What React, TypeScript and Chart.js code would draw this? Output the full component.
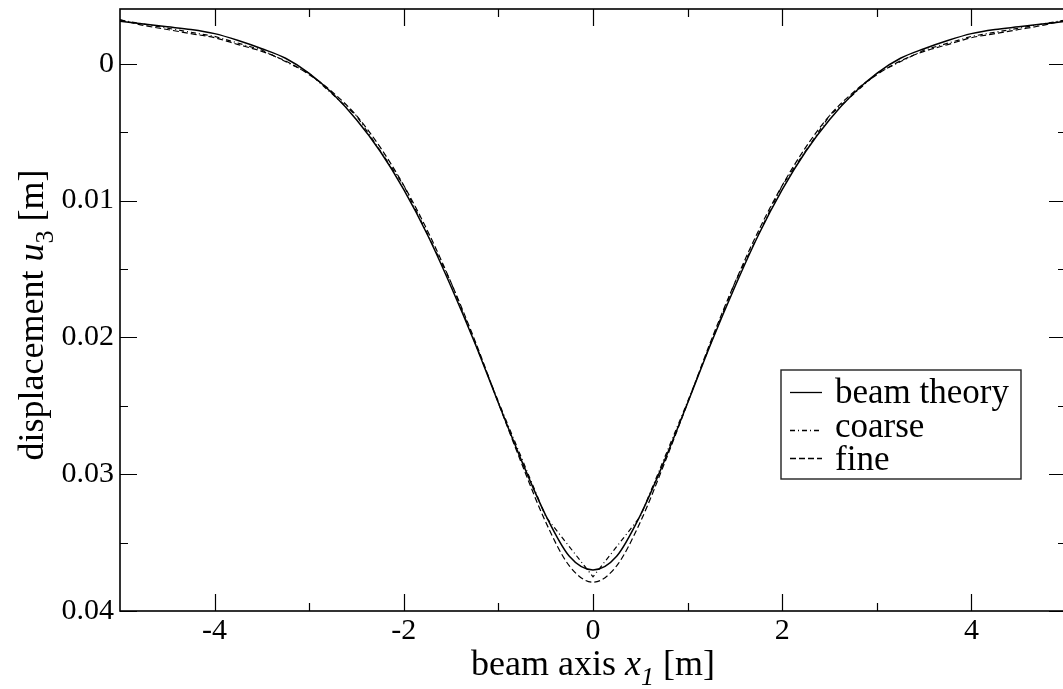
import { useEffect, useRef } from "react";
import { Chart, registerables } from "chart.js";

Chart.register(...registerables);

// ---- data ----
const beamX = [-5, -4.75, -4.5, -4.25, -4, -3.75, -3.5, -3.25, -3, -2.75, -2.5, -2.25, -2, -1.75, -1.5, -1.25, -1, -0.75, -0.5, -0.25, 0,
  0.25, 0.5, 0.75, 1, 1.25, 1.5, 1.75, 2, 2.25, 2.5, 2.75, 3, 3.25, 3.5, 3.75, 4, 4.25, 4.5, 4.75, 5];
const beamTheory = [-0.0031, -0.0029, -0.0027, -0.0025, -0.0022, -0.0017, -0.0011, -0.0004, 0.0007, 0.0022, 0.0041, 0.0064, 0.0092, 0.0125, 0.0163, 0.0204, 0.0248, 0.0291, 0.0330, 0.0360, 0.0370,
  0.0360, 0.0330, 0.0291, 0.0248, 0.0204, 0.0163, 0.0125, 0.0092, 0.0064, 0.0041, 0.0022, 0.0007, -0.0004, -0.0011, -0.0017, -0.0022, -0.0025, -0.0027, -0.0029, -0.0031];

const fineX = [-5, -4.75, -4.5, -4.25, -4, -3.75, -3.5, -3.25, -3, -2.75, -2.5, -2.25, -2, -1.75, -1.5, -1.25, -1, -0.75, -0.5, -0.25, 0,
  0.25, 0.5, 0.75, 1, 1.25, 1.5, 1.75, 2, 2.25, 2.5, 2.75, 3, 3.25, 3.5, 3.75, 4, 4.25, 4.5, 4.75, 5];
const fine = [-0.0032, -0.0028, -0.0025, -0.0022, -0.0019, -0.0014, -0.0009, -0.0002, 0.0008, 0.0021, 0.0038, 0.0061, 0.0089, 0.0122, 0.0160, 0.0202, 0.0248, 0.0293, 0.0335, 0.0367, 0.0379,
  0.0367, 0.0335, 0.0293, 0.0248, 0.0202, 0.0160, 0.0122, 0.0089, 0.0061, 0.0038, 0.0021, 0.0008, -0.0002, -0.0009, -0.0014, -0.0019, -0.0022, -0.0025, -0.0028, -0.0032];

const coarseX = [-5, -4.5, -4, -3.5, -3, -2.5, -2, -1.5, -1, -0.5, 0, 0.5, 1, 1.5, 2, 2.5, 3, 3.5, 4, 4.5, 5];
const coarse = [-0.0032, -0.0026, -0.0020, -0.0010, 0.0007, 0.0038, 0.0089, 0.0160, 0.0247, 0.0331, 0.0375,
  0.0331, 0.0247, 0.0160, 0.0089, 0.0038, 0.0007, -0.0010, -0.0020, -0.0026, -0.0032];

const xMajorTicks = [-4, -2, 0, 2, 4];
const xMinorTicks = [-3, -1, 1, 3];
const yMajorTicks = [0, 0.01, 0.02, 0.03, 0.04];
const yMinorTicks = [0.005, 0.015, 0.025, 0.035];
const legendLabels = ["beam theory", "coarse", "fine"];

const SERIF = '"Liberation Serif", "DejaVu Serif", serif';
const DASH_DOT = [5, 3, 1, 3];
const DASHED = [6, 3];

type Run = { text: string; italic?: boolean; sub?: boolean };

function drawRuns(ctx: CanvasRenderingContext2D, runs: Run[], cx: number, baseline: number, size: number) {
  const fontFor = (r: Run) => `${r.italic ? "italic " : ""}${r.sub ? Math.round(size * 0.72) : size}px ${SERIF}`;
  let total = 0;
  const widths = runs.map((r) => {
    ctx.font = fontFor(r);
    const w = ctx.measureText(r.text).width;
    total += w;
    return w;
  });
  let x = cx - total / 2;
  ctx.textAlign = "left";
  ctx.textBaseline = "alphabetic";
  runs.forEach((r, i) => {
    ctx.font = fontFor(r);
    ctx.fillText(r.text, x, baseline + (r.sub ? size * 0.28 : 0));
    x += widths[i];
  });
}

const framePlugin = {
  id: "framePlugin",
  afterDraw(chart: any) {
    const ctx: CanvasRenderingContext2D = chart.ctx;
    const { left, right, top, bottom } = chart.chartArea;
    const xs = chart.scales.x;
    const ys = chart.scales.y;
    ctx.save();
    ctx.strokeStyle = "#000";
    ctx.fillStyle = "#000";
    ctx.setLineDash([]);
    // ticks
    ctx.lineWidth = 1.2;
    const major = 17;
    const minor = 8;
    ctx.beginPath();
    xMajorTicks.forEach((v) => {
      const p = Math.round(xs.getPixelForValue(v)) + 0.5;
      ctx.moveTo(p, bottom); ctx.lineTo(p, bottom - major);
      ctx.moveTo(p, top); ctx.lineTo(p, top + major);
    });
    xMinorTicks.forEach((v) => {
      const p = Math.round(xs.getPixelForValue(v)) + 0.5;
      ctx.moveTo(p, bottom); ctx.lineTo(p, bottom - minor);
      ctx.moveTo(p, top); ctx.lineTo(p, top + minor);
    });
    yMajorTicks.forEach((v) => {
      const p = Math.round(ys.getPixelForValue(v)) + 0.5;
      ctx.moveTo(left, p); ctx.lineTo(left + major, p);
      ctx.moveTo(right, p); ctx.lineTo(right - major, p);
    });
    yMinorTicks.forEach((v) => {
      const p = Math.round(ys.getPixelForValue(v)) + 0.5;
      ctx.moveTo(left, p); ctx.lineTo(left + minor, p);
      ctx.moveTo(right, p); ctx.lineTo(right - minor, p);
    });
    ctx.stroke();
    // frame
    ctx.lineWidth = 1.6;
    ctx.strokeRect(left, top, right - left, bottom - top);

    // legend
    const lx = 781, ly = 370, lw = 240, lh = 109;
    ctx.fillStyle = "#fff";
    ctx.fillRect(lx, ly, lw, lh);
    ctx.strokeStyle = "#222";
    ctx.lineWidth = 1.4;
    ctx.strokeRect(lx, ly, lw, lh);
    const lineYs = [392, 430, 458];
    const textYs = [403, 437, 470];
    const dashes = [[], DASH_DOT, DASHED];
    ctx.strokeStyle = "#000";
    ctx.fillStyle = "#000";
    legendLabels.forEach((lab, i) => {
      ctx.lineWidth = 1.3;
      ctx.setLineDash(dashes[i] as number[]);
      ctx.beginPath();
      ctx.moveTo(790, lineYs[i] + 0.5);
      ctx.lineTo(822, lineYs[i] + 0.5);
      ctx.stroke();
      ctx.setLineDash([]);
      ctx.font = `35px ${SERIF}`;
      ctx.textAlign = "left";
      ctx.textBaseline = "alphabetic";
      ctx.fillText(lab, 835, textYs[i]);
    });

    // axis titles
    drawRuns(ctx, [
      { text: "beam axis " },
      { text: "x", italic: true },
      { text: "1", italic: true, sub: true },
      { text: " [m]" },
    ], (left + right) / 2, 675, 36);

    ctx.save();
    ctx.translate(43, (top + bottom) / 2 + 5);
    ctx.rotate(-Math.PI / 2);
    drawRuns(ctx, [
      { text: "displacement " },
      { text: "u", italic: true },
      { text: "3", sub: true },
      { text: " [m]" },
    ], 0, 0, 36);
    ctx.restore();

    ctx.restore();
  },
};

export default function App() {
  const ref = useRef<HTMLCanvasElement | null>(null);
  useEffect(() => {
    if (!ref.current) return;
    const chart = new Chart(ref.current, {
      type: "line",
      data: {
        datasets: [
          {
            label: legendLabels[0],
            data: beamX.map((x, i) => ({ x, y: beamTheory[i] })),
            borderColor: "#000",
            borderWidth: 1.5,
            pointRadius: 0,
            fill: false,
            cubicInterpolationMode: "monotone",
          },
          {
            label: legendLabels[1],
            data: coarseX.map((x, i) => ({ x, y: coarse[i] })),
            borderColor: "#000",
            borderWidth: 1.2,
            borderDash: DASH_DOT,
            pointRadius: 0,
            fill: false,
            tension: 0,
          },
          {
            label: legendLabels[2],
            data: fineX.map((x, i) => ({ x, y: fine[i] })),
            borderColor: "#000",
            borderWidth: 1.2,
            borderDash: DASHED,
            pointRadius: 0,
            fill: false,
            cubicInterpolationMode: "monotone",
          },
        ],
      },
      options: {
        animation: false,
        responsive: false,
        devicePixelRatio: 1,
        layout: { padding: { top: 9, right: 4, left: 0, bottom: 0 } },
        plugins: { legend: { display: false }, tooltip: { enabled: false }, title: { display: false } },
        scales: {
          x: {
            type: "linear",
            min: -5,
            max: 5,
            grid: { display: false, drawTicks: false },
            border: { display: false },
            afterBuildTicks: (s: any) => { s.ticks = xMajorTicks.map((v) => ({ value: v })); },
            afterFit: (s: any) => { s.height = 78; s.paddingLeft = 0; s.paddingRight = 0; },
            ticks: {
              color: "#000",
              font: { family: SERIF, size: 30 },
              padding: 2,
              maxRotation: 0,
              callback: (v: any) => String(v),
            },
          },
          y: {
            type: "linear",
            min: -0.004,
            max: 0.04,
            reverse: true,
            grid: { display: false, drawTicks: false },
            border: { display: false },
            afterBuildTicks: (s: any) => { s.ticks = yMajorTicks.map((v) => ({ value: v })); },
            afterFit: (s: any) => { s.width = 120; s.paddingTop = 0; s.paddingBottom = 0; },
            ticks: {
              color: "#000",
              font: { family: SERIF, size: 30 },
              padding: 6,
              callback: (v: any) => String(Math.round(v * 1000) / 1000),
            },
          },
        },
      },
      plugins: [framePlugin],
    } as any);
    return () => chart.destroy();
  }, []);
  return (
    <div style={{ position: "fixed", left: 0, top: 0, width: 1063, height: 689, overflow: "hidden", background: "#fff" }}>
      <canvas ref={ref} width={1070} height={689} style={{ width: 1070, height: 689, display: "block" }} />
    </div>
  );
}
